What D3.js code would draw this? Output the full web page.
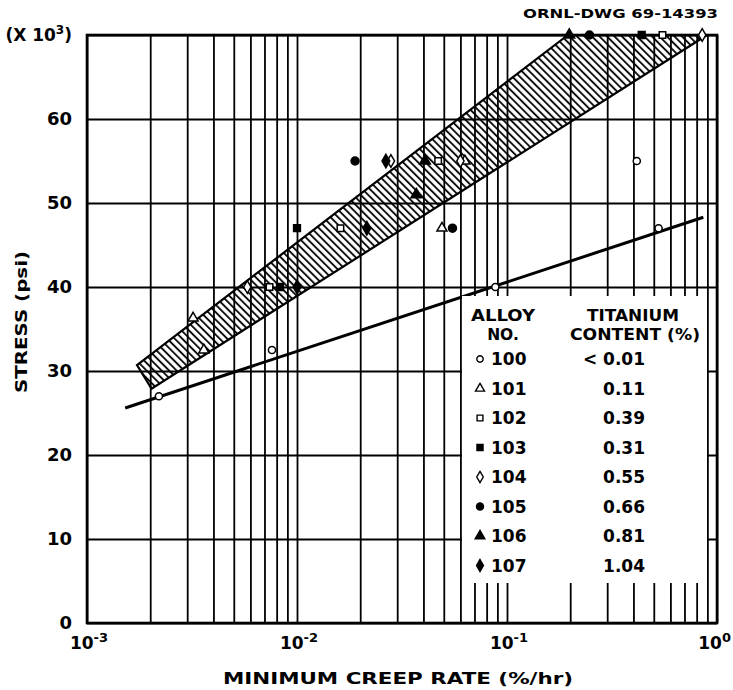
<!DOCTYPE html>
<html>
<head>
<meta charset="utf-8">
<script src="https://cdn.jsdelivr.net/npm/d3@7"></script>
<style>
  body { margin: 0; background: #fff; }
  text { font-family: "DejaVu Sans", sans-serif; font-weight: bold; fill: #000; }
</style>
</head>
<body>
<div id="chart"></div>
<script>
// alloy legend
const alloyNumbers = ['100', '101', '102', '103', '104', '105', '106', '107'];
const titaniumContent = ['< 0.01', '0.11', '0.39', '0.31', '0.55', '0.66', '0.81', '1.04'];

// data points: [minimum creep rate (%/hr), stress (x10^3 psi)]
const alloy100 = [[0.0022, 27], [0.0076, 32.5], [0.088, 40], [0.527, 47], [0.415, 55]];
const alloy101 = [[0.0032, 36.3], [0.0036, 32.5], [0.049, 47], [0.063, 55]];
const alloy102 = [[0.0074, 40], [0.0161, 47], [0.047, 55], [0.55, 70]];
const alloy103 = [[0.0083, 40], [0.0100, 47], [0.438, 70]];
const alloy104 = [[0.0058, 40], [0.0280, 55], [0.060, 55], [0.85, 70]];
const alloy105 = [[0.0189, 55], [0.055, 47], [0.247, 70]];
const alloy106 = [[0.037, 51], [0.0407, 55], [0.198, 70]];
const alloy107 = [[0.0100, 40], [0.0215, 47], [0.0265, 55]];

// scatter band (upper and lower edge) and line through alloy 100
const bandUpper = [[0.00173, 30.7], [0.195, 70]];
const bandLower = [[0.00203, 27.9], [0.896, 70]];
const line100 = [[0.00152, 25.6], [0.861, 48.3]];

// axis ticks
const stressTicks = [0, 10, 20, 30, 40, 50, 60, 70];
const stressLabels = ['0', '10', '20', '30', '40', '50', '60'];
const decadeTicks = [1e-3, 1e-2, 1e-1, 1];
const decadeExponents = ['-3', '-2', '-1', '0'];

const alloyPoints = [alloy100, alloy101, alloy102, alloy103, alloy104, alloy105, alloy106, alloy107];
const alloyStyle = [
    { shape: d3.symbolCircle, size: 40, open: true },
    { shape: d3.symbolTriangle, size: 44, open: true },
    { shape: d3.symbolSquare, size: 42, open: true },
    { shape: d3.symbolSquare, size: 46, open: false },
    { shape: d3.symbolDiamond, size: 46, open: true },
    { shape: d3.symbolCircle, size: 50, open: false },
    { shape: d3.symbolTriangle, size: 50, open: false },
    { shape: d3.symbolDiamond, size: 52, open: false }
];

function renderCreepChart() {
    const width = 733;
    const height = 690;
    const margin = { top: 35, right: 16, bottom: 67, left: 87 };
    const w = width - margin.left - margin.right;
    const h = height - margin.top - margin.bottom;

    const svg = d3.select('#chart').append('svg')
        .attr('width', width)
        .attr('height', height);

    const defs = svg.append('defs');
    defs.append('pattern')
        .attr('id', 'hatch')
        .attr('patternUnits', 'userSpaceOnUse')
        .attr('width', 5.3)
        .attr('height', 5.3)
        .attr('patternTransform', 'rotate(-45)')
        .append('line')
        .attr('x1', 1).attr('y1', 0)
        .attr('x2', 1).attr('y2', 5.3)
        .attr('stroke', '#000')
        .attr('stroke-width', 1.8);

    const g = svg.append('g').attr('transform', `translate(${margin.left},${margin.top})`);

    const x = d3.scaleLog().domain([1e-3, 1]).range([0, w]);
    const y = d3.scaleLinear().domain([0, 70]).range([h, 0]);

    // grid
    const xGrid = g.append('g')
        .attr('transform', `translate(0,${h})`)
        .call(d3.axisBottom(x).tickValues(x.ticks()).tickSize(-h).tickFormat(''));
    xGrid.select('.domain').remove();
    xGrid.selectAll('line').attr('stroke', '#000').attr('stroke-width', 1.8);

    const yGrid = g.append('g')
        .call(d3.axisLeft(y).tickValues(stressTicks).tickSize(-w).tickFormat(''));
    yGrid.select('.domain').remove();
    yGrid.selectAll('line').attr('stroke', '#000').attr('stroke-width', 1.8);

    // scatter band
    const bandPoly = [bandUpper[0], bandUpper[1], bandLower[1], bandLower[0]];
    g.append('path')
        .attr('d', d3.line().x(d => x(d[0])).y(d => y(d[1]))(bandPoly) + 'Z')
        .attr('fill', 'url(#hatch)')
        .attr('stroke', '#000')
        .attr('stroke-width', 2.2)
        .attr('stroke-linejoin', 'miter');

    // line for alloy 100
    g.append('path')
        .attr('d', d3.line().x(d => x(d[0])).y(d => y(d[1]))(line100))
        .attr('fill', 'none')
        .attr('stroke', '#000')
        .attr('stroke-width', 3);

    // legend background covers the grid
    const legX = 375, legY = 261;
    g.append('rect')
        .attr('x', legX).attr('y', legY)
        .attr('width', 245).attr('height', 287)
        .attr('fill', '#fff');

    // frame
    g.append('rect')
        .attr('width', w).attr('height', h)
        .attr('fill', 'none')
        .attr('stroke', '#000')
        .attr('stroke-width', 2.6);

    // points
    alloyPoints.forEach((pts, i) => {
        const st = alloyStyle[i];
        g.selectAll(null)
            .data(pts)
            .enter()
            .append('path')
            .attr('transform', d => `translate(${x(d[0])},${y(d[1])})`)
            .attr('d', d3.symbol().type(st.shape).size(st.size))
            .attr('fill', st.open ? '#fff' : '#000')
            .attr('stroke', '#000')
            .attr('stroke-width', 1.5);
    });

    // y tick labels
    g.selectAll('.ylab')
        .data(stressLabels)
        .enter()
        .append('text')
        .attr('x', -15)
        .attr('y', (d, i) => y(stressTicks[i]))
        .attr('dy', '0.36em')
        .attr('text-anchor', 'end')
        .attr('font-size', 18)
        .text(d => d);

    const mult = g.append('text')
        .attr('x', -15).attr('y', y(70))
        .attr('dy', '0.36em')
        .attr('text-anchor', 'end')
        .attr('font-size', 17);
    mult.append('tspan').text('(X 10');
    mult.append('tspan').attr('font-size', 12).attr('dy', -7).text('3');
    mult.append('tspan').attr('dy', 7).text(')');

    // x tick labels
    decadeTicks.forEach((v, i) => {
        const last = i === decadeTicks.length - 1;
        const t = g.append('text')
            .attr('x', last ? x(v) + 14 : x(v) + 2)
            .attr('y', h + 26)
            .attr('text-anchor', last ? 'end' : 'middle')
            .attr('font-size', 17);
        t.append('tspan').text('10');
        t.append('tspan').attr('font-size', 13).attr('dy', -7).text(decadeExponents[i]);
    });

    // axis titles
    g.append('text')
        .attr('x', w / 2 - 4)
        .attr('y', h + 61)
        .attr('text-anchor', 'middle')
        .attr('font-size', 15)
        .attr('textLength', 350)
        .attr('lengthAdjust', 'spacingAndGlyphs')
        .text('MINIMUM CREEP RATE (%/hr)');

    svg.append('text')
        .attr('transform', 'translate(27,322) rotate(-90)')
        .attr('text-anchor', 'middle')
        .attr('font-size', 16)
        .attr('textLength', 142)
        .attr('lengthAdjust', 'spacingAndGlyphs')
        .text('STRESS (psi)');

    svg.append('text')
        .attr('x', 523)
        .attr('y', 18)
        .attr('font-size', 13)
        .attr('textLength', 195)
        .attr('lengthAdjust', 'spacingAndGlyphs')
        .text('ORNL-DWG 69-14393');

    // legend
    const leg = g.append('g');
    leg.append('text').attr('x', 416).attr('y', 286).attr('text-anchor', 'middle')
        .attr('font-size', 15.5).attr('textLength', 64).attr('lengthAdjust', 'spacingAndGlyphs')
        .text('ALLOY');
    leg.append('text').attr('x', 416).attr('y', 305).attr('text-anchor', 'middle')
        .attr('font-size', 15.5).text('NO.');
    leg.append('text').attr('x', 546).attr('y', 286).attr('text-anchor', 'middle')
        .attr('font-size', 15.5).attr('textLength', 92).attr('lengthAdjust', 'spacingAndGlyphs')
        .text('TITANIUM');
    leg.append('text').attr('x', 548).attr('y', 305).attr('text-anchor', 'middle')
        .attr('font-size', 15.5).attr('textLength', 130).attr('lengthAdjust', 'spacingAndGlyphs')
        .text('CONTENT (%)');

    alloyNumbers.forEach((num, i) => {
        const base = 330 + i * 29.5;
        const st = alloyStyle[i];
        leg.append('path')
            .attr('transform', `translate(393,${base - 6})`)
            .attr('d', d3.symbol().type(st.shape).size(st.size * 0.8))
            .attr('fill', st.open ? '#fff' : '#000')
            .attr('stroke', '#000')
            .attr('stroke-width', 1.4);
        leg.append('text').attr('x', 404).attr('y', base)
            .attr('font-size', 17).text(num);
        leg.append('text').attr('x', 558).attr('y', base)
            .attr('text-anchor', 'end')
            .attr('font-size', 17).text(titaniumContent[i]);
    });
}

renderCreepChart();
</script>
</body>
</html>
